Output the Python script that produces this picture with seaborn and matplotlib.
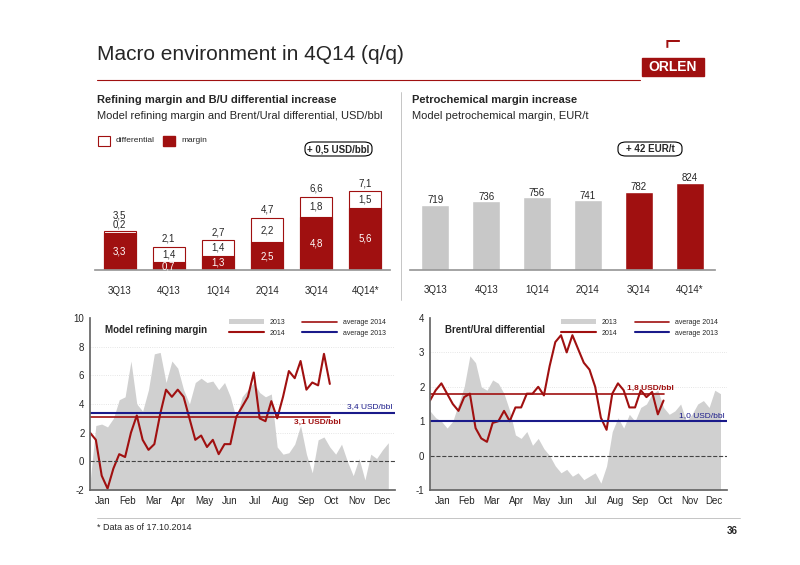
import matplotlib
matplotlib.use("Agg")
import matplotlib.pyplot as plt
import seaborn as sns
import numpy as np
from matplotlib.patches import Rectangle, FancyBboxPatch

sns.set_theme(style="white")
plt.rcParams['font.family'] = ['Liberation Sans', 'DejaVu Sans']

RED = "#A01010"
GREY = "#C8C8C8"

quarters = ["3Q13", "4Q13", "1Q14", "2Q14", "3Q14", "4Q14*"]
margin = [3.3, 0.7, 1.3, 2.5, 4.8, 5.6]
differential = [0.2, 1.4, 1.4, 2.2, 1.8, 1.5]
totals = [3.5, 2.1, 2.7, 4.7, 6.6, 7.1]
petchem = [719, 736, 756, 741, 782, 824]

months = ["Jan", "Feb", "Mar", "Apr", "May", "Jun", "Jul", "Aug", "Sep", "Oct", "Nov", "Dec"]

ref_2013 = [-1.5, 2.5, 2.6, 2.4, 3.0, 4.3, 4.5, 7.0, 4.0, 3.5, 5.0, 7.5, 7.6, 5.5,
            7.0, 6.5, 5.0, 4.0, 5.5, 5.8, 5.5, 5.6, 5.0, 5.5, 4.5, 3.0, 4.5, 5.0, 5.5, 4.8,
            4.5, 4.7, 1.0, 0.5, 0.6, 1.2, 2.5, 0.5, -0.8, 1.5, 1.7, 1.0, 0.5,
            1.2, 0.0, -1.0, 0.2, -1.3, 0.5, 0.2, 0.8, 1.3]
ref_2014 = [2.0, 1.5, -1.0, -1.9, -0.5, 0.5, 0.3, 2.0, 3.2, 1.5, 0.8, 1.2, 3.3, 5.0,
            4.5, 5.0, 4.5, 3.0, 1.5, 1.8, 1.0, 1.5, 0.5, 1.2, 1.2, 3.1, 3.8, 4.5, 6.2, 3.0,
            2.8, 4.2, 3.0, 4.5, 6.3, 5.8, 7.0, 5.0, 5.5, 5.3, 7.5, 5.4]
bu_2013 = [1.3, 1.1, 1.0, 0.8, 1.0, 1.5, 2.0, 2.9, 2.7, 2.0, 1.9, 2.2, 2.1, 1.8,
           1.3, 0.6, 0.5, 0.7, 0.3, 0.5, 0.2, 0.0, -0.3, -0.5, -0.4, -0.6, -0.5, -0.7, -0.6, -0.5,
           -0.8, -0.3, 0.7, 1.1, 0.8, 1.2, 1.0, 1.4, 1.5, 1.8, 1.9, 1.4, 1.2,
           1.3, 1.5, 1.0, 1.2, 1.5, 1.6, 1.4, 1.9, 1.8]
bu_2014 = [1.6, 1.9, 2.1, 1.8, 1.5, 1.3, 1.7, 1.8, 0.8, 0.5, 0.4, 0.95, 1.0, 1.3,
           1.0, 1.4, 1.4, 1.8, 1.8, 2.0, 1.75, 2.6, 3.3, 3.5, 3.0, 3.5, 3.1, 2.7, 2.5, 2.0,
           1.1, 0.75, 1.8, 2.1, 1.9, 1.4, 1.4, 1.9, 1.7, 1.85, 1.2, 1.6]
ref_avg = (3.1, 3.4)
bu_avg = (1.8, 1.0)

W, H = 800, 565
fig = plt.figure(figsize=(8, 5.65), dpi=100)
def ax_px(x0, y0, x1, y1):
    return fig.add_axes([x0 / W, 1 - y1 / H, (x1 - x0) / W, (y1 - y0) / H])
def ftxt(x, y, s, **kw):
    fig.text(x / W, 1 - y / H, s, **kw)

# header
ftxt(97, 55, "Macro environment in 4Q14 (q/q)", fontsize=15, va="center")
fig.add_artist(plt.Line2D([97 / W, 640 / W], [1 - 80 / H] * 2, color=RED, lw=0.8))
fig.add_artist(Rectangle((642 / W, 1 - 76 / H), 62 / W, 18 / H, color=RED))
ftxt(673, 67, "ORLEN", fontsize=10, color="white", weight="bold", ha="center", va="center")
ftxt(673, 42, "⌐", fontsize=20, color=RED, ha="center", va="center", weight="bold")

# subtitles
ftxt(97, 100, "Refining margin and B/U differential increase", fontsize=8, weight="bold", va="center")
ftxt(97, 116, "Model refining margin and Brent/Ural differential, USD/bbl", fontsize=8, va="center")
ftxt(412, 100, "Petrochemical margin increase", fontsize=8, weight="bold", va="center")
ftxt(412, 116, "Model petrochemical margin, EUR/t", fontsize=8, va="center")
fig.add_artist(Rectangle((98 / W, 1 - 146 / H), 12 / W, 10 / H, facecolor="white", edgecolor=RED, lw=0.8))
ftxt(116, 141, "differential", fontsize=6, va="center")
fig.add_artist(Rectangle((163 / W, 1 - 146 / H), 12 / W, 10 / H, facecolor=RED, edgecolor=RED))
ftxt(181, 141, "margin", fontsize=6, va="center")
for (x0, x1, s) in [(305, 372, "+ 0,5 USD/bbl"), (618, 682, "+ 42 EUR/t")]:
    fig.add_artist(FancyBboxPatch((x0 / W, 1 - 156 / H), (x1 - x0) / W, 14 / H,
                                  boxstyle="round,pad=0,rounding_size=0.01", facecolor="white", edgecolor="black", lw=0.8))
    ftxt((x0 + x1) / 2, 149, s, fontsize=7, weight="bold", ha="center", va="center")

# top-left bars
ax1 = ax_px(95, 150, 390, 270)
sns.barplot(x=quarters, y=totals, color="white", edgecolor=RED, linewidth=0.8, width=0.65, ax=ax1)
sns.barplot(x=quarters, y=margin, color=RED, edgecolor=RED, linewidth=0.8, width=0.65, ax=ax1, saturation=1)
ax1.set_ylim(0, 10.8)
for i in range(6):
    ax1.text(i, totals[i] + (1.1 if i == 0 else 0.45), f"{totals[i]:.1f}".replace(".", ","), ha="center", fontsize=7)
    dy = margin[i] + differential[i] / 2 if differential[i] > 0.5 else totals[i] + 0.15
    ax1.text(i, dy, f"{differential[i]:.1f}".replace(".", ","), ha="center", va="center" if differential[i] > 0.5 else "bottom", fontsize=7)
    ax1.text(i, margin[i] / 2, f"{margin[i]:.1f}".replace(".", ","), ha="center", va="center", fontsize=7, color="white")
ax1.set_yticks([]); ax1.set_xticks([])
for s in ["top", "left", "right"]:
    ax1.spines[s].set_visible(False)
ax1.spines["bottom"].set_color("#999999")
for i, q in enumerate(quarters):
    ax1.text(i, -1.9, q, ha="center", va="center", fontsize=7)

# top-right bars
ax2 = ax_px(410, 150, 715, 270)
cols = [GREY] * 4 + [RED] * 2
sns.barplot(x=quarters, y=petchem, hue=quarters, palette=cols, legend=False, width=0.55, saturation=1, ax=ax2)
ax2.set_ylim(409, 409 + (824 - 409) * 120 / 87)
for i, v in enumerate(petchem):
    ax2.text(i, v + 8, str(v), ha="center", fontsize=7)
ax2.set_yticks([]); ax2.set_xticks([])
for s in ["top", "left", "right"]:
    ax2.spines[s].set_visible(False)
ax2.spines["bottom"].set_color("#999999")
ylo = ax2.get_ylim()
for i, q in enumerate(quarters):
    ax2.text(i, 409 - (ylo[1] - ylo[0]) * 20 / 120, q, ha="center", va="center", fontsize=7)

# divider
fig.add_artist(plt.Line2D([401 / W] * 2, [1 - 92 / H, 1 - 300 / H], color="#bbbbbb", lw=0.6))

def ts_panel(box, g13, r14, avgs, ylim, yticks, title, labels):
    ax = ax_px(*box)
    x13 = np.arange(len(g13)) * 7.0
    x14 = np.arange(len(r14)) * 7.0
    ax.fill_between(x13, ylim[0], g13, color="#D0D0D0", lw=0, label="2013")
    sns.lineplot(x=x14, y=r14, color=RED, lw=1.5, ax=ax, label="2014")
    ax.plot([0, x14[-1]], [avgs[0]] * 2, color=RED, lw=1.2, label="average 2014")
    ax.plot([0, 365], [avgs[1]] * 2, color="#1A1A8A", lw=1.5, label="average 2013")
    ax.axhline(0, color="#444444", ls="--", lw=0.8)
    for y in yticks:
        if y not in (0, ylim[0], ylim[1]):
            ax.axhline(y, color="#dddddd", ls=":", lw=0.6, zorder=0)
    ax.set_xlim(0, 365); ax.set_ylim(*ylim)
    ax.set_yticks(yticks)
    ax.set_yticklabels([str(y) for y in yticks], fontsize=7)
    ax.set_xticks(np.arange(12) * 30.4 + 15)
    ax.set_xticklabels(months, fontsize=7)
    ax.tick_params(length=2, pad=2)
    for s in ["top", "right"]:
        ax.spines[s].set_visible(False)
    ax.spines["left"].set_color("#666666"); ax.spines["bottom"].set_color("#666666")
    ax.text(0.05, 0.93, title, transform=ax.transAxes, fontsize=7, weight="bold", va="center")
    h, l = ax.get_legend_handles_labels()
    order = [l.index(k) for k in ["2013", "2014", "average 2014", "average 2013"]]
    ax.legend([h[i] for i in order], [l[i] for i in order], ncol=2, fontsize=5, frameon=False,
              loc="upper right", bbox_to_anchor=(0.99, 1.03), handlelength=5, columnspacing=2.5)
    for (x, y, s, c, w) in labels:
        ax.text(x, y, s, fontsize=6, color=c, ha="right", va="center", weight=w)
    return ax

ts_panel((90, 318, 395, 490), ref_2013, ref_2014, ref_avg, (-2, 10), [-2, 0, 2, 4, 6, 8, 10],
         "Model refining margin",
         [(362, 3.85, "3,4 USD/bbl", "#1A1A8A", "normal"), (300, 2.7, "3,1 USD/bbl", RED, "bold")])
ts_panel((430, 318, 727, 490), bu_2013, bu_2014, bu_avg, (-1, 4), [-1, 0, 1, 2, 3, 4],
         "Brent/Ural differential",
         [(300, 1.95, "1,8 USD/bbl", RED, "bold"), (362, 1.15, "1,0 USD/bbl", "#1A1A8A", "normal")])

# footer
fig.add_artist(plt.Line2D([97 / W, 740 / W], [1 - 518 / H] * 2, color="#bbbbbb", lw=0.6))
ftxt(97, 528, "* Data as of 17.10.2014", fontsize=6.5, va="center")
ftxt(738, 531, "36", fontsize=7, weight="bold", ha="right", va="center")

fig.savefig("out.png", dpi=100)
